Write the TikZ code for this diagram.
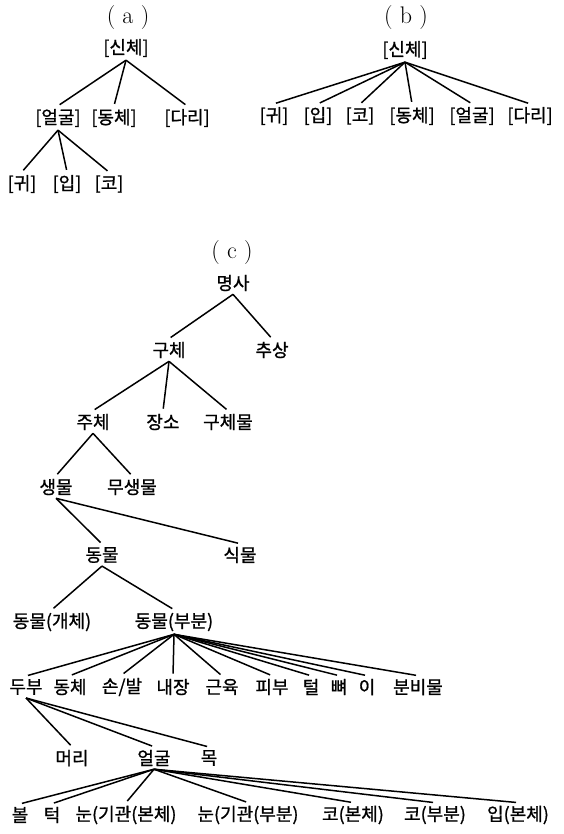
\documentclass[tikz,border=0pt]{standalone}
\usepackage{fontspec}
\newfontfamily\kr[FakeBold=1]{Noto Sans CJK KR}
\usetikzlibrary{positioning}
\tikzset{
    rotulo/.style = {font=\fontsize{24}{28}\selectfont},
    termo/.style  = {font=\kr\fontsize{18}{21}\selectfont, inner sep=3pt},
    ramo/.style   = {line width=1.5pt, black, shorten >=2pt},
}

\begin{document}
\begin{tikzpicture}[x=1pt, y=-1pt]
    \useasboundingbox (0,0) rectangle (563,834);
    % (a)
    \node[rotulo] (la) at (128,18) {( a )};
    \node[termo] (a0)  at (126,48)  {[신체]};
    \node[termo] (a1)  at (58,118)  {[얼굴]};
    \node[termo] (a2)  at (114,118) {[동체]};
    \node[termo] (a3)  at (187,118) {[다리]};
    \node[termo] (a11) at (22,184)  {[귀]};
    \node[termo] (a12) at (67,184)  {[입]};
    \node[termo] (a13) at (109,184) {[코]};
    \foreach \f in {a1,a2,a3} \draw[ramo] (a0.south) -- (\f.north);
    \foreach \f in {a11,a12,a13} \draw[ramo] (a1.south) -- (\f.north);
    % (b)
    \node[rotulo] (lb) at (406,18) {( b )};
    \node[termo] (b0) at (405,50)  {[신체]};
    \node[termo] (b1) at (274,116) {[귀]};
    \node[termo] (b2) at (318,116) {[입]};
    \node[termo] (b3) at (360,116) {[코]};
    \node[termo] (b4) at (412,116) {[동체]};
    \node[termo] (b5) at (472,116) {[얼굴]};
    \node[termo] (b6) at (530,116) {[다리]};
    \foreach \f in {b1,b2,b3,b4,b5,b6} \draw[ramo] (b0.south) -- (\f.north);
    % (c)
    \node[rotulo] (lc) at (232,253) {( c )};
    \node[termo] (myeongsa)   at (233,283) {명사};
    \node[termo] (guche)      at (169,350) {구체};
    \node[termo] (chusang)    at (272,350) {추상};
    \node[termo] (juche)      at (93,422)  {주체};
    \node[termo] (jangso)     at (163,422) {장소};
    \node[termo] (guchemul)   at (228,422) {구체물};
    \node[termo] (saengmul)   at (56,487)  {생물};
    \node[termo] (musaengmul) at (132,487) {무생물};
    \node[termo] (dongmul)    at (102,555) {동물};
    \node[termo] (sikmul)     at (240,555) {식물};
    \node[termo] (gaeche)     at (52,622)  {동물(개체)};
    \node[termo] (bubun)      at (174,622) {동물(부분)};
    \node[termo] (dubu)     at (26,687)  {두부};
    \node[termo] (dongche)  at (70,687)  {동체};
    \node[termo] (sonbal)   at (122,687) {손/발};
    \node[termo] (naejang)  at (173,687) {내장};
    \node[termo] (geunyuk)  at (222,687) {근육};
    \node[termo] (pibu)     at (272,687) {피부};
    \node[termo] (teol)     at (311,687) {털};
    \node[termo] (ppyeo)    at (339,687) {뼈};
    \node[termo] (ii)       at (367,687) {이};
    \node[termo] (bunbimul) at (418,687) {분비물};
    \node[termo] (meori)  at (72,758)  {머리};
    \node[termo] (eolgul) at (154,758) {얼굴};
    \node[termo] (mok)    at (209,758) {목};
    \node[termo] (bol)  at (20,815)  {볼};
    \node[termo] (teok) at (52,815)  {턱};
    \node[termo] (nun1) at (126,815) {눈(기관(본체)};
    \node[termo] (nun2) at (248,815) {눈(기관(부분)};
    \node[termo] (ko1)  at (353,815) {코(본체)};
    \node[termo] (ko2)  at (435,815) {코(부분)};
    \node[termo] (ip1)  at (518,815) {입(본체)};
    \foreach \f in {guche,chusang} \draw[ramo] (myeongsa.south) -- (\f.north);
    \foreach \f in {juche,jangso,guchemul} \draw[ramo] (guche.south) -- (\f.north);
    \foreach \f in {saengmul,musaengmul} \draw[ramo] (juche.south) -- (\f.north);
    \foreach \f in {dongmul,sikmul} \draw[ramo] (saengmul.south) -- (\f.north);
    \foreach \f in {gaeche,bubun} \draw[ramo] (dongmul.south) -- (\f.north);
    \foreach \f in {dubu,dongche,sonbal,naejang,geunyuk,pibu,teol,ppyeo,ii,bunbimul}
        \draw[ramo] (bubun.south) -- (\f.north);
    \foreach \f in {meori,eolgul,mok} \draw[ramo] (dubu.south) -- (\f.north);
    \foreach \f in {bol,teok,nun1,nun2,ko1,ko2,ip1} \draw[ramo] (eolgul.south) -- (\f.north);
\end{tikzpicture}
\end{document}
